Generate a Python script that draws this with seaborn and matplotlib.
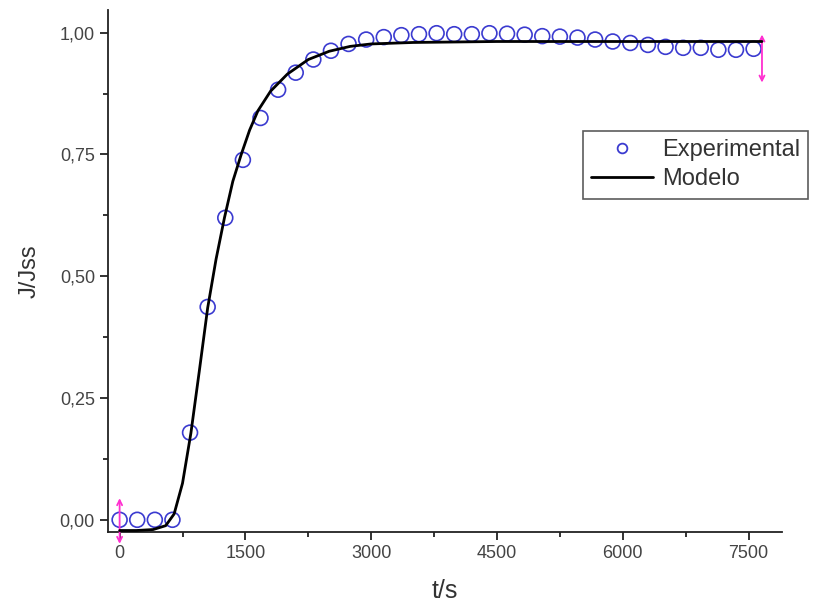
import matplotlib
matplotlib.use("Agg")
import matplotlib.pyplot as plt
import seaborn as sns
import pandas as pd
from matplotlib.lines import Line2D
from matplotlib.ticker import FuncFormatter, MultipleLocator

# experimental points
t_exp = [0, 210, 420, 630, 840, 1050, 1260, 1470, 1680, 1890, 2100, 2310,
         2520, 2730, 2940, 3150, 3360, 3570, 3780, 3990, 4200, 4410, 4620,
         4830, 5040, 5250, 5460, 5670, 5880, 6090, 6300, 6510, 6720, 6930,
         7140, 7350, 7560]
j_exp = [0.0, 0.0, 0.0, 0.0, 0.179, 0.437, 0.62, 0.739, 0.825, 0.883, 0.918,
         0.945, 0.963, 0.977, 0.986, 0.991, 0.995, 0.997, 0.999, 0.997, 0.997,
         0.999, 0.998, 0.996, 0.993, 0.992, 0.99, 0.986, 0.982, 0.979, 0.975,
         0.971, 0.969, 0.969, 0.965, 0.965, 0.967]

# model curve
t_mod = [0, 200, 400, 550, 650, 750, 850, 950, 1050, 1150, 1250, 1350, 1450,
         1550, 1650, 1800, 2000, 2250, 2500, 2750, 3000, 3500, 4500, 6000, 7660]
j_mod = [-0.022, -0.022, -0.02, -0.012, 0.012, 0.075, 0.178, 0.305, 0.435, 0.535,
         0.62, 0.695, 0.75, 0.80, 0.84, 0.88, 0.915, 0.945, 0.962, 0.972,
         0.977, 0.98, 0.982, 0.982, 0.982]

exp_df = pd.DataFrame({"t": t_exp, "J": j_exp})
mod_df = pd.DataFrame({"t": t_mod, "J": j_mod})

sns.set_style("ticks")
plt.rcParams["font.family"] = ["Liberation Sans", "DejaVu Sans"]

blue = "#3b3bd0"
fig = plt.figure(figsize=(8.13, 6.15), dpi=100)
ax = fig.add_axes([0.133, 0.135, 0.829, 0.849])

sns.scatterplot(data=exp_df, x="t", y="J", ax=ax, marker="o", s=115,
                facecolors="none", edgecolors=blue, linewidths=1.2, zorder=3)
sns.lineplot(data=mod_df, x="t", y="J", ax=ax, color="black", linewidth=2.0,
             zorder=4)

# range markers at both ends of the fit
arrow = dict(arrowstyle="<->", color="#ff2fd0", lw=1.3, mutation_scale=9)
ax.annotate("", xy=(t_exp[0], j_exp[0] - 0.055), xytext=(t_exp[0], j_exp[0] + 0.05),
            arrowprops=arrow, annotation_clip=False)
ax.annotate("", xy=(t_mod[-1], j_mod[-1] - 0.09), xytext=(t_mod[-1], j_mod[-1] + 0.02),
            arrowprops=arrow, annotation_clip=False)

ax.set_xlim(-137, 7900)
ax.set_ylim(-0.025, 1.047)
ax.xaxis.set_major_locator(MultipleLocator(1500))
ax.xaxis.set_minor_locator(MultipleLocator(750))
ax.yaxis.set_major_locator(MultipleLocator(0.25))
ax.yaxis.set_minor_locator(MultipleLocator(0.125))
ax.yaxis.set_major_formatter(FuncFormatter(lambda v, p: f"{v:.2f}".replace(".", ",")))
ax.xaxis.set_major_formatter(FuncFormatter(lambda v, p: f"{v:.0f}"))

sns.despine(ax=ax)
for s in ["left", "bottom"]:
    ax.spines[s].set_linewidth(1.3)
    ax.spines[s].set_color("#222222")
ax.tick_params(which="major", direction="out", length=6, width=1.3,
               labelsize=13, labelcolor="#444444", color="#222222")
ax.tick_params(which="minor", direction="out", length=3.5, width=1.3, color="#222222")

ax.set_xlabel("t/s", fontsize=18, color="#333333", labelpad=12)
ax.set_ylabel("J/Jss", fontsize=17, color="#333333", labelpad=14)

handles = [Line2D([], [], marker="o", linestyle="none", markersize=7,
                  markerfacecolor="none", markeredgecolor=blue, markeredgewidth=1.3),
           Line2D([], [], color="black", linewidth=2.0)]
leg = ax.legend(handles, ["Experimental", "Modelo"], loc="upper left",
                bbox_to_anchor=(583 / 813, 1 - 131 / 615), bbox_transform=fig.transFigure,
                fontsize=17, frameon=True, fancybox=False, handlelength=2.6,
                handletextpad=0.4, borderpad=0.35, labelspacing=0.3,
                borderaxespad=0)
leg.get_frame().set_edgecolor("#333333")
leg.get_frame().set_linewidth(1.2)
for txt in leg.get_texts():
    txt.set_color("#333333")

fig.savefig("out.png", dpi=100)
